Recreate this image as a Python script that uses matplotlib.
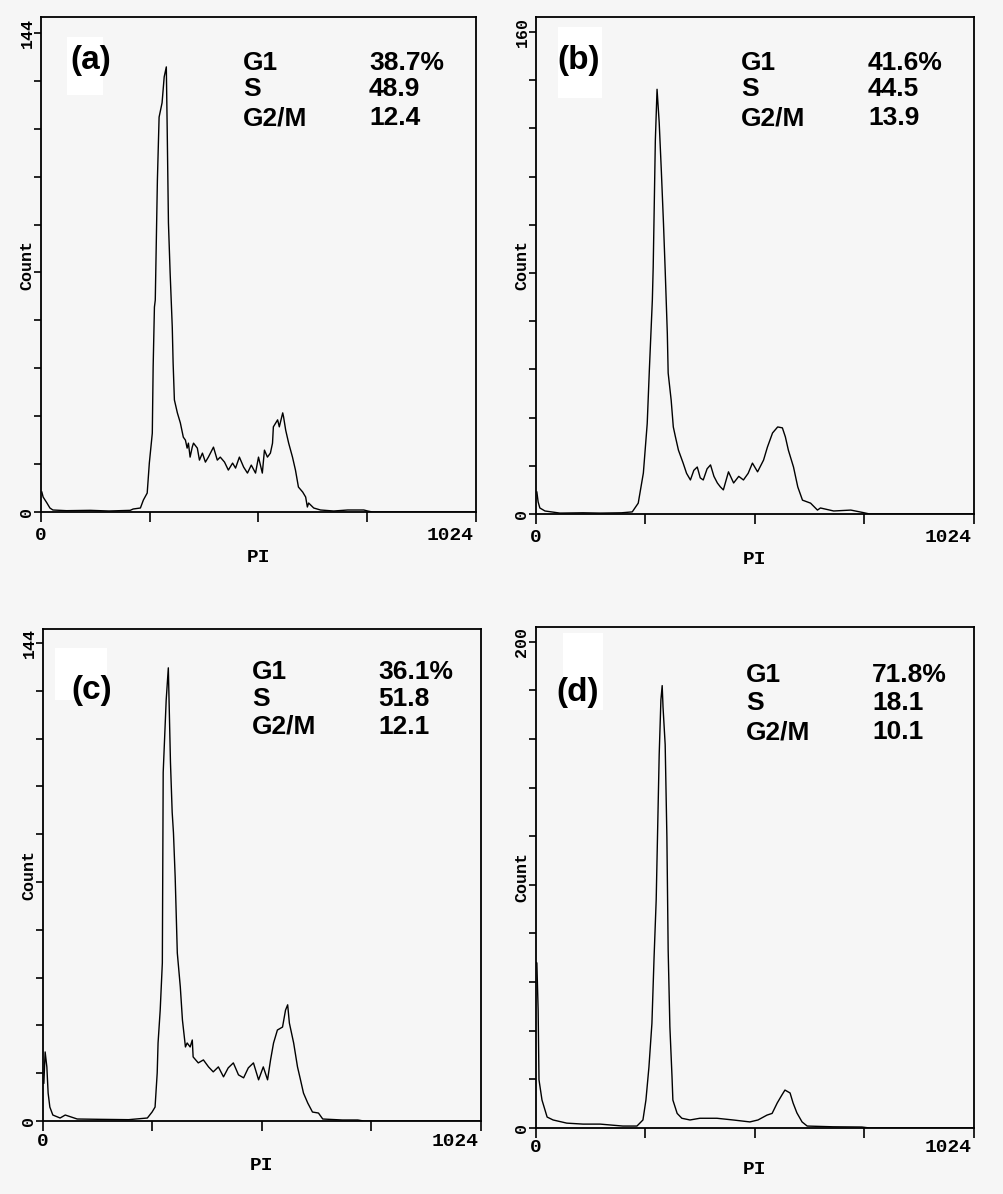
import numpy as np
import matplotlib.pyplot as plt
from matplotlib.patches import Rectangle
from matplotlib.transforms import offset_copy

# ---- data (PI channel, count) ----
a_ch = [2, 5, 14, 21, 28, 60, 116, 160, 210, 217, 234, 241, 250, 255, 262, 264, 267,
        269, 274, 278, 285, 290, 295, 297, 300, 304, 309, 311, 314, 321, 328, 335,
        340, 344, 347, 351, 356, 359, 368, 373, 380, 387, 394, 406, 415, 422, 432,
        441, 451, 458, 467, 477, 486, 495, 505, 512, 521, 526, 533, 540, 545, 547,
        557, 561, 569, 571, 576, 583, 592, 599, 606, 616, 623, 627, 630, 642, 658,
        689, 722, 760, 769, 780, 1024]
a_count = [6.0, 4.5, 2.7, 1.2, 0.6, 0.4, 0.5, 0.3, 0.5, 0.9, 1.2, 3.6, 5.7, 14.7, 23.7,
           43.6, 61.6, 63.7, 99.8, 118.7, 123.0, 130.8, 133.8, 115.7, 86.9, 71.8, 55.6,
           44.8, 33.7, 29.8, 26.8, 22.5, 21.6, 19.2, 20.7, 16.5, 19.5, 20.7, 19.2, 15.6,
           17.7, 15.0, 16.5, 19.5, 15.6, 16.5, 15.0, 12.6, 14.7, 13.2, 16.5, 13.5, 11.7,
           14.1, 11.7, 16.5, 11.7, 18.6, 16.5, 17.7, 20.7, 25.6, 27.7, 25.6, 29.8, 28.6,
           24.6, 20.7, 16.5, 12.6, 7.5, 6.0, 4.5, 1.5, 2.7, 1.2, 0.6, 0.3, 0.6, 0.6,
           0.3, 0.0, 0.0]

b_ch = [2, 5, 9, 21, 56, 110, 150, 200, 225, 239, 251, 260, 265, 272, 274, 276, 279,
        283, 288, 293, 298, 302, 307, 309, 316, 321, 326, 333, 344, 352, 361, 369, 377,
        384, 391, 400, 408, 416, 424, 431, 438, 450, 462, 474, 485, 496, 506, 518, 532,
        541, 553, 565, 576, 583, 590, 602, 612, 623, 642, 658, 665, 696, 736, 764, 780,
        1024]
b_count = [7.3, 4.0, 2.0, 1.0, 0.3, 0.4, 0.3, 0.4, 0.7, 3.6, 13.6, 30.0, 47.8, 71.0,
           82.0, 98.6, 124.0, 141.0, 130.0, 114.0, 96.6, 81.0, 60.0, 46.8, 37.8, 28.9,
           25.6, 21.2, 16.9, 13.5, 11.3, 14.5, 15.6, 12.0, 11.3, 15.0, 16.3, 12.5, 10.3,
           9.0, 8.0, 14.0, 10.3, 12.5, 11.3, 13.5, 16.9, 14.0, 17.9, 22.2, 26.9, 28.9,
           28.6, 25.6, 21.2, 15.6, 9.0, 4.6, 3.6, 1.3, 2.0, 1.0, 1.3, 0.5, 0.0, 0.0]

c_ch = [2, 5, 9, 12, 16, 23, 40, 52, 80, 134, 200, 244, 255, 262, 267, 269, 274, 279,
        281, 288, 293, 298, 302, 305, 309, 314, 321, 326, 333, 337, 344, 349, 351, 363,
        375, 387, 398, 410, 422, 433, 445, 457, 469, 480, 492, 504, 515, 525, 532, 539,
        548, 560, 567, 572, 576, 586, 595, 602, 609, 619, 630, 644, 654, 700, 736, 750,
        1024]
c_count = [11.4, 20.8, 16.3, 8.4, 4.2, 1.8, 0.9, 1.8, 0.6, 0.5, 0.4, 0.9, 2.7, 4.2,
           14.5, 23.5, 33.4, 47.6, 105.0, 126.8, 136.5, 108.0, 93.0, 86.8, 73.5, 50.6,
           40.4, 30.4, 22.3, 23.5, 22.3, 24.4, 19.3, 17.5, 18.4, 16.3, 14.8, 16.3, 13.3,
           16.0, 17.5, 13.9, 13.0, 16.0, 17.5, 12.4, 16.3, 12.4, 18.4, 23.5, 27.4, 28.3,
           33.4, 35.0, 29.5, 23.5, 16.3, 12.4, 8.4, 5.4, 2.7, 2.4, 0.6, 0.3, 0.3, 0.0,
           0.0]

d_ch = [1, 2, 5, 7, 14, 26, 40, 72, 110, 150, 203, 236, 250, 257, 264, 271, 276, 281,
        288, 292, 295, 297, 302, 306, 309, 313, 318, 320, 330, 341, 360, 383, 423, 461,
        500, 519, 540, 552, 564, 575, 582, 594, 601, 610, 622, 634, 694, 762, 780, 1024]
d_count = [68.0, 67.9, 48.5, 19.8, 11.5, 4.5, 3.3, 2.0, 1.6, 1.6, 0.8, 0.8, 3.3, 11.5,
           25.0, 43.0, 70.0, 93.8, 153.5, 176.0, 181.9, 173.0, 157.6, 119.7, 73.0, 41.6,
           21.0, 11.5, 6.0, 4.0, 3.3, 4.0, 4.0, 3.3, 2.5, 3.3, 5.3, 6.0, 10.3, 13.6,
           15.6, 14.4, 10.3, 6.2, 2.5, 0.8, 0.5, 0.4, 0.0, 0.0]

panel_tags = ['(a)', '(b)', '(c)', '(d)']
y_top_labels = [144, 160, 144, 200]
phase_names = ['G1', 'S', 'G2/M']
phase_values = [['38.7%', '48.9', '12.4'],
                ['41.6%', '44.5', '13.9'],
                ['36.1%', '51.8', '12.1'],
                ['71.8%', '18.1', '10.1']]

series = [(a_ch, a_count), (b_ch, b_count), (c_ch, c_count), (d_ch, d_count)]

# ---- layout, all in pixels of the 1004 x 1194 picture ----
W, H = 1004, 1194
# left, top, right, bottom(=zero line)
boxes = [(41, 17, 476, 512), (536, 17, 974, 514), (43, 629, 481, 1121), (536, 627, 974, 1128)]
ylims = [148.8, 165.0, 148.2, 206.0]
tag_xy = [(91, 60), (579, 60), (92, 690), (578, 692)]
white_boxes = [(67, 37, 103, 95), (558, 27, 602, 98), (55, 648, 107, 700), (563, 633, 603, 710)]
stat_x = [(243, 369), (741, 868), (252, 378), (746, 872)]
stat_y = [(63, 89, 118), (63, 89, 118), (672, 699, 727), (675, 703, 732)]
xlab_off = [(23, 45), (23, 45), (21, 44), (20, 42)]

bg = '#f6f6f6'
mono = 'Liberation Mono'
sans = 'Liberation Sans'

fig = plt.figure(figsize=(W / 100, H / 100), dpi=100, facecolor=bg)

for i in range(4):
    l, t, r, b = boxes[i]
    ax = fig.add_axes([l / W, 1 - b / H, (r - l) / W, (b - t) / H], facecolor=bg)
    ch, cnt = series[i]
    ax.plot(ch, cnt, color='black', lw=1.0)

    ax.set_xlim(0, 1024)
    ax.set_ylim(0, ylims[i])
    for s in ax.spines.values():
        s.set_linewidth(1.3)

    ytop = y_top_labels[i]
    ax.set_yticks(np.linspace(0, ytop, 11))
    ax.set_xticks([0, 256, 512, 768, 1024])
    ax.tick_params(axis='y', direction='out', length=5, width=1.2, labelleft=False)
    ax.tick_params(axis='x', direction='out', length=7, width=1.2, labelbottom=False)

    # rotated y tick labels and axis label, like the instrument printout
    ytr = offset_copy(ax.get_yaxis_transform(), fig=fig, x=-14, y=0, units='dots')
    for v in [0, ytop]:
        ax.text(0, v, str(v), transform=ytr, rotation=90, ha='center', va='center',
                family=mono, fontsize=12, fontweight='bold')
    atr = offset_copy(ax.transAxes, fig=fig, x=-14, y=0, units='dots')
    ax.text(0, 0.5, 'Count', transform=atr, rotation=90, ha='center', va='center',
            family=mono, fontsize=12, fontweight='bold')

    d1, d2 = xlab_off[i]
    xtr = offset_copy(ax.get_xaxis_transform(), fig=fig, x=0, y=-d1, units='dots')
    ax.text(0, 0, '0', transform=xtr, ha='center', va='center',
            family=mono, fontsize=14, fontweight='bold')
    xtr2 = offset_copy(ax.get_xaxis_transform(), fig=fig, x=-2, y=-d1, units='dots')
    ax.text(1024, 0, '1024', transform=xtr2, ha='right', va='center',
            family=mono, fontsize=14, fontweight='bold')
    ptr = offset_copy(ax.transAxes, fig=fig, x=0, y=-d2, units='dots')
    ax.text(0.5, 0, 'PI', transform=ptr, ha='center', va='center',
            family=mono, fontsize=14, fontweight='bold')

    # white patch behind the panel tag
    x0, y0, x1, y1 = white_boxes[i]
    fig.add_artist(Rectangle((x0 / W, 1 - y1 / H), (x1 - x0) / W, (y1 - y0) / H,
                             transform=fig.transFigure, facecolor='white',
                             edgecolor='none', zorder=3))
    tx, ty = tag_xy[i]
    fig.text(tx / W, 1 - ty / H, panel_tags[i], ha='center', va='center',
             family=sans, fontsize=24, fontweight='bold', zorder=4)

    xn, xv = stat_x[i]
    for k in range(3):
        yy = 1 - stat_y[i][k] / H
        fig.text(xn / W, yy, phase_names[k], ha='left', va='center',
                 family=sans, fontsize=19, fontweight='bold', zorder=4)
        fig.text(xv / W, yy, phase_values[i][k], ha='left', va='center',
                 family=sans, fontsize=19, fontweight='bold', zorder=4)

fig.savefig('out.png', dpi=100, facecolor=bg)
